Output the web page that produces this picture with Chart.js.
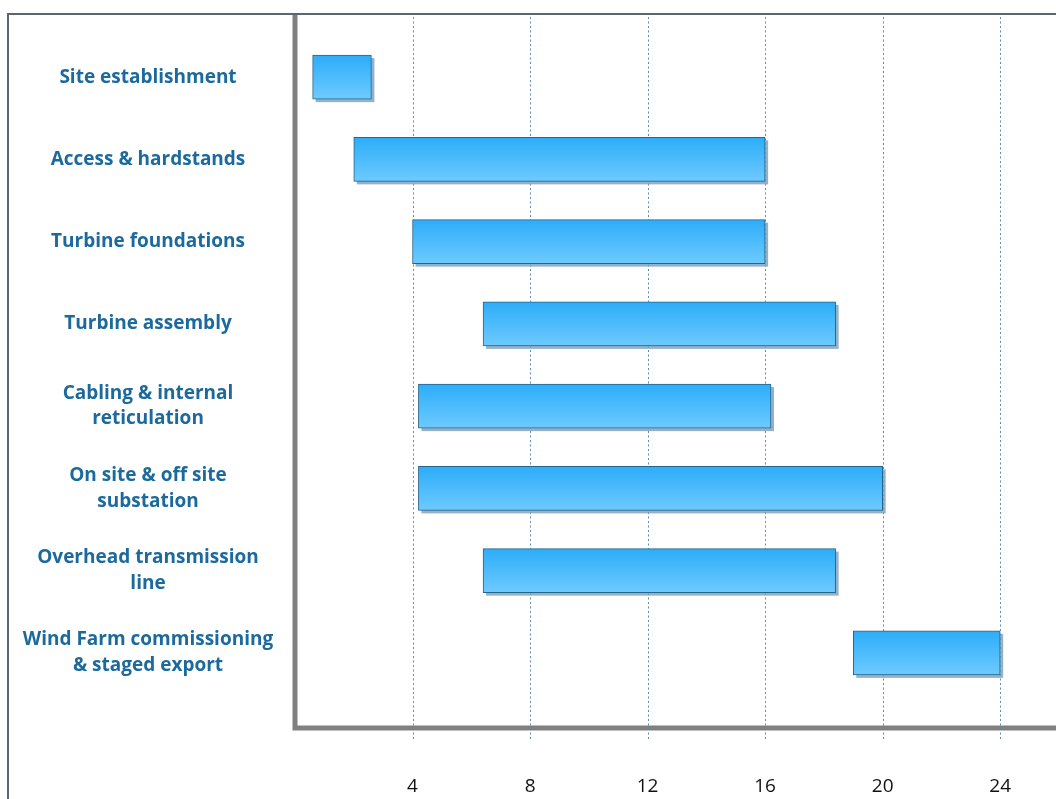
<!DOCTYPE html>
<html>
<head>
<meta charset="utf-8">
<script src="https://cdn.jsdelivr.net/npm/chart.js@4/dist/chart.umd.min.js"></script>
<style>
  html, body { margin: 0; padding: 0; background: #ffffff; }
  #wrap { position: relative; width: 1056px; height: 799px; }
</style>
</head>
<body>
<div id="wrap"><canvas id="c" width="1056" height="799"></canvas></div>
<script>
// Construction programme (months)
const tasks = [
  'Site establishment',
  'Access & hardstands',
  'Turbine foundations',
  'Turbine assembly',
  ['Cabling & internal', 'reticulation'],
  ['On site & off site', 'substation'],
  ['Overhead transmission', 'line'],
  ['Wind Farm commissioning', '& staged export']
];
const startMonth = [0.6, 2.0, 4.0, 6.4, 4.2, 4.2, 6.4, 19.0];
const endMonth   = [2.6, 16.0, 16.0, 18.4, 16.2, 20.0, 18.4, 24.0];
const monthTicks = [4, 8, 12, 16, 20, 24];

const LABEL_SIZE = 19;
const labelFont = { family: 'Open Sans', size: LABEL_SIZE, weight: 'bold', lineHeight: 1.36 };

// centre the task names in the column left of the axis
const meas = document.createElement('canvas').getContext('2d');
meas.font = 'bold ' + LABEL_SIZE + 'px "Open Sans"';
let widest = 0;
tasks.forEach(t => [].concat(t).forEach(s => { widest = Math.max(widest, meas.measureText(s).width); }));
const labelPad = 147 - widest / 2;

function barGradient(ctx) {
  const chart = ctx.chart;
  const y = chart.scales.y;
  if (!y || ctx.dataIndex === undefined) return '#3db6fc';
  const cy = y.getPixelForValue(ctx.dataIndex);
  if (!isFinite(cy)) return '#3db6fc';
  const g = chart.ctx.createLinearGradient(0, cy - 22, 0, cy + 22);
  g.addColorStop(0, '#2cadf9');
  g.addColorStop(1, '#6ecaff');
  return g;
}

const framePlugin = {
  id: 'frame',
  beforeDatasetsDraw(chart) {
    const { ctx } = chart;
    const x = chart.scales.x;
    ctx.save();
    // dotted month gridlines
    ctx.strokeStyle = '#5f8bb3';
    ctx.lineWidth = 1;
    ctx.setLineDash([2, 2.5]);
    monthTicks.forEach(v => {
      const px = Math.round(x.getPixelForValue(v)) + 0.5;
      ctx.beginPath();
      ctx.moveTo(px, 17);
      ctx.lineTo(px, 741);
      ctx.stroke();
    });
    ctx.setLineDash([]);
    // outer frame
    ctx.strokeStyle = '#5f656b';
    ctx.lineWidth = 2;
    ctx.beginPath();
    ctx.moveTo(8, 799);
    ctx.lineTo(8, 14);
    ctx.lineTo(1056, 14);
    ctx.stroke();
    // heavy axes
    const x0 = x.getPixelForValue(0);
    ctx.strokeStyle = '#808080';
    ctx.lineWidth = 5;
    ctx.beginPath();
    ctx.moveTo(x0, 15);
    ctx.lineTo(x0, 728);
    ctx.lineTo(1056, 728);
    ctx.stroke();
    // offset shadow behind each bar
    ctx.fillStyle = 'rgba(120,158,186,0.8)';
    chart.getDatasetMeta(0).data.forEach(bar => {
      const p = bar.getProps(['x', 'y', 'base', 'height'], true);
      const l = Math.min(p.x, p.base), r = Math.max(p.x, p.base);
      ctx.fillRect(l + 3, p.y - p.height / 2 + 3, r - l, p.height);
    });
    ctx.restore();
  }
};

new Chart(document.getElementById('c'), {
  type: 'bar',
  data: {
    labels: tasks,
    datasets: [{
      data: startMonth.map((s, i) => [s, endMonth[i]]),
      backgroundColor: barGradient,
      borderColor: '#25648b',
      borderWidth: 1,
      borderSkipped: false,
      barThickness: 44
    }]
  },
  options: {
    indexAxis: 'y',
    responsive: false,
    animation: false,
    layout: { padding: { top: 36, left: 0, right: 0, bottom: 0 } },
    plugins: { legend: { display: false }, tooltip: { enabled: false } },
    scales: {
      x: {
        type: 'linear',
        min: 0,
        max: 25.9,
        afterBuildTicks(scale) { scale.ticks = [0].concat(monthTicks).map(v => ({ value: v })); },
        afterFit(scale) { scale.height = 105; scale.paddingLeft = 0; scale.paddingRight = 0; },
        grid: { display: false, drawTicks: false },
        border: { display: false },
        ticks: {
          padding: 81,
          color: '#111111',
          font: { family: 'Open Sans', size: 19 },
          callback: v => (v > 0 ? String(v) : '')
        }
      },
      y: {
        type: 'category',
        afterFit(scale) { scale.width = 295; scale.paddingTop = 0; scale.paddingBottom = 0; },
        grid: { display: false, drawTicks: false },
        border: { display: false },
        ticks: {
          crossAlign: 'center',
          padding: labelPad,
          color: '#1c6a9c',
          font: labelFont,
          autoSkip: false
        }
      }
    }
  },
  plugins: [framePlugin]
});
</script>
</body>
</html>
